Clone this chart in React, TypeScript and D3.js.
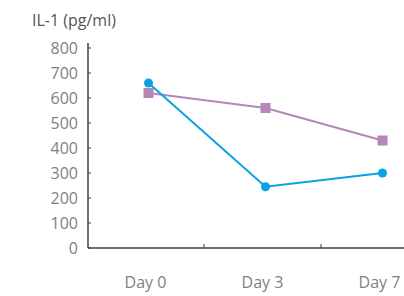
import { useMemo } from "react";
import { scaleBand, scaleLinear, line } from "d3";

const days = ["Day 0", "Day 3", "Day 7"];
const blueSeries = [660, 245, 300];
const purpleSeries = [620, 560, 430];
const yTicks = [0, 100, 200, 300, 400, 500, 600, 700, 800];

const W = 404;
const H = 296;

export default function App() {
    const x = useMemo(() => scaleBand().domain(days).range([90, 441]), []);
    const y = useMemo(() => scaleLinear().domain([0, 800]).range([248, 48]), []);

    const cx = (d: string) => (x(d) || 0) + x.bandwidth() / 2;
    const makeLine = line<number>()
        .x((_, i) => cx(days[i]))
        .y((v) => y(v));

    const axisColor = "#404040";
    const labelColor = "#7f7f7f";
    const font = "'Open Sans', 'Noto Sans', sans-serif";

    return (
        <svg
            width={W}
            height={H}
            style={{ position: "absolute", left: 0, top: 0, background: "#fff" }}
            fontFamily={font}
        >
            {/* title */}
            <text x={32} y={26} fontSize={16} fill="#555">
                IL-1 (pg/ml)
            </text>

            {/* y axis */}
            <line x1={88} x2={88} y1={43} y2={248} stroke={axisColor} strokeWidth={1.5} />
            {yTicks.map((t) => (
                <g key={t}>
                    <line x1={88} x2={91} y1={y(t)} y2={y(t)} stroke={axisColor} strokeWidth={1} />
                    <text
                        x={78}
                        y={y(t)}
                        dy="0.35em"
                        textAnchor="end"
                        fontSize={16}
                        fill={labelColor}
                    >
                        {t}
                    </text>
                </g>
            ))}

            {/* x axis */}
            <line x1={88} x2={W} y1={248} y2={248} stroke={axisColor} strokeWidth={1.5} />
            {days.slice(1).map((d) => (
                <line
                    key={d}
                    x1={(x(d) || 0) - 3}
                    x2={(x(d) || 0) - 3}
                    y1={248}
                    y2={244}
                    stroke={axisColor}
                    strokeWidth={1}
                />
            ))}
            {days.map((d) => (
                <text
                    key={d}
                    x={cx(d) - 3}
                    y={288}
                    textAnchor="middle"
                    fontSize={16}
                    fill={labelColor}
                >
                    {d}
                </text>
            ))}

            {/* purple series */}
            <path d={makeLine(purpleSeries) || ""} fill="none" stroke="#b487b8" strokeWidth={2} />
            {purpleSeries.map((v, i) => (
                <rect
                    key={i}
                    x={cx(days[i]) - 5}
                    y={y(v) - 5}
                    width={10}
                    height={10}
                    fill="#b487b8"
                />
            ))}

            {/* blue series */}
            <path d={makeLine(blueSeries) || ""} fill="none" stroke="#0aa2e2" strokeWidth={2} />
            {blueSeries.map((v, i) => (
                <circle key={i} cx={cx(days[i])} cy={y(v)} r={4.5} fill="#0aa2e2" />
            ))}
        </svg>
    );
}
